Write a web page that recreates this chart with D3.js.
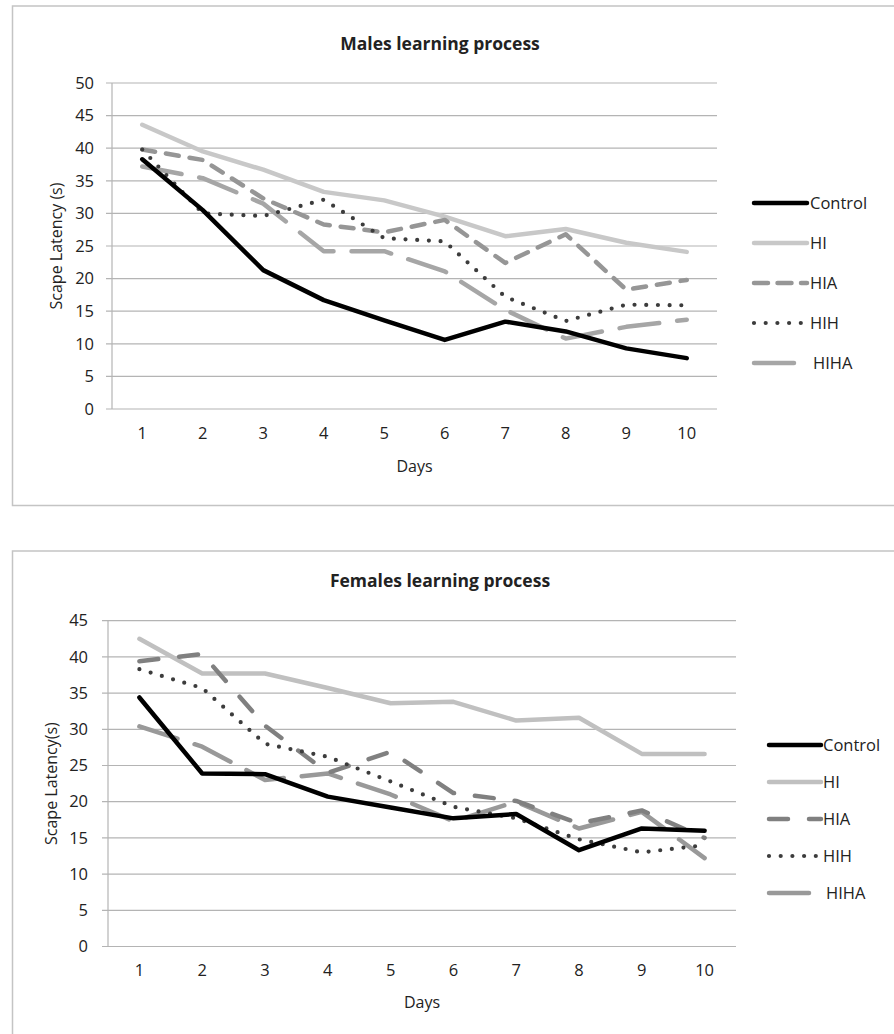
<!DOCTYPE html>
<html><head><meta charset="utf-8">
<script src="https://cdn.jsdelivr.net/npm/d3@7"></script>
<style>
body{margin:0;background:#fff;}
svg{display:block;}
text{font-family:"Open Sans","Noto Sans",sans-serif;fill:#222;}
</style></head><body>
<svg id="chart" width="894" height="1034"></svg>
<script>
const days = ["1","2","3","4","5","6","7","8","9","10"];
const seriesNames = ["Control","HI","HIA","HIH","HIHA"];

// Males
const malesControl = [38.3,30.5,21.3,16.7,13.6,10.6,13.4,11.9,9.3,7.8];
const malesHI      = [43.6,39.5,36.7,33.3,32.0,29.5,26.5,27.6,25.5,24.1];
const malesHIA     = [39.8,38.2,32.3,28.3,27.1,29.0,22.4,26.8,18.3,19.8];
const malesHIH     = [39.8,30.0,29.6,32.1,26.2,25.7,17.2,13.5,16.0,15.9];
const malesHIHA    = [37.2,35.4,31.5,24.2,24.2,21.1,15.2,10.8,12.6,13.7];
const malesTicks   = [0,5,10,15,20,25,30,35,40,45,50];

// Females
const femalesControl = [34.4,23.9,23.8,20.7,19.2,17.7,18.3,13.3,16.3,16.0];
const femalesHI      = [42.5,37.7,37.7,35.7,33.6,33.8,31.2,31.6,26.6,26.6];
const femalesHIA     = [39.4,40.4,30.5,24.0,26.9,21.2,20.1,17.0,18.8,15.0];
const femalesHIH     = [38.3,35.7,28.0,26.2,22.8,19.3,17.7,14.8,13.0,14.0];
const femalesHIHA    = [30.4,27.6,23.0,23.9,21.0,17.3,20.0,16.3,18.6,12.2];
const femalesTicks   = [0,5,10,15,20,25,30,35,40,45];

const svg = d3.select("#chart");

function drawChart(o){
  const g = svg.append("g");
  g.append("path")
    .attr("d", o.frame)
    .attr("fill","none").attr("stroke","#c4c4c4").attr("stroke-width",1.5);

  const x = d3.scaleBand().domain(days).range([o.left,o.right]);
  const y = d3.scaleLinear().domain([0,d3.max(o.ticks)]).range([o.bottom,o.top]);

  g.append("g").selectAll("line").data(o.ticks).join("line")
    .attr("x1",o.left-6).attr("x2",o.right)
    .attr("y1",d=>y(d)).attr("y2",d=>y(d))
    .attr("stroke","#b4b4b4").attr("stroke-width",1.2);
  g.append("line").attr("x1",o.left).attr("x2",o.left)
    .attr("y1",o.top).attr("y2",o.bottom)
    .attr("stroke","#b4b4b4").attr("stroke-width",1.2);

  const yAxis = d3.axisLeft(y).tickValues(o.ticks).tickSize(0).tickPadding(o.yPad);
  const ya = g.append("g").attr("transform",`translate(${o.left},0)`).call(yAxis);
  ya.select(".domain").remove();
  ya.selectAll("text").style("font-family",'"Open Sans",sans-serif').style("font-size","16.5px").attr("fill","#222");

  const xAxis = d3.axisBottom(x).tickSize(0).tickPadding(o.xPad);
  const xa = g.append("g").attr("transform",`translate(0,${o.bottom})`).call(xAxis);
  xa.select(".domain").remove();
  xa.selectAll("text").style("font-family",'"Open Sans",sans-serif').style("font-size","16.5px").attr("fill","#222");

  g.append("text").attr("x",o.titleX).attr("y",o.titleY).attr("text-anchor","middle")
    .style("font-size","17.5px").style("font-weight","bold").text(o.title);
  g.append("text").attr("x",(o.left+o.right)/2).attr("y",o.daysY).attr("text-anchor","middle")
    .style("font-size","16px").text("Days");
  g.append("text").attr("transform",`translate(${o.ytX},${(o.top+o.bottom)/2}) rotate(-90)`)
    .attr("text-anchor","middle").style("font-size","16px").text(o.yTitle);

  const line = d3.line().x((d,i)=>x(days[i])+x.bandwidth()/2).y(d=>y(d));

  const order = [1,4,2,3,0];
  order.forEach(k=>{
    const st = o.styles[k];
    g.append("path").datum(o.data[k]).attr("d",line)
      .attr("fill","none").attr("stroke",st.color).attr("stroke-width",st.width)
      .attr("stroke-linecap","round").attr("stroke-linejoin","round")
      .attr("stroke-dasharray",st.dash||null);
  });

  const lg = g.append("g");
  seriesNames.forEach((n,k)=>{
    const st = o.styles[k];
    const yy = o.legTop + k*o.legStep;
    lg.append("line").attr("x1",o.legX).attr("x2",o.legX+st.legLen)
      .attr("y1",yy).attr("y2",yy)
      .attr("stroke",st.color).attr("stroke-width",st.width)
      .attr("stroke-linecap","round")
      .attr("stroke-dasharray",st.legDash||st.dash||null);
    lg.append("text").attr("x",o.legX+st.legLen+st.textGap).attr("y",yy).attr("dy","0.35em")
      .style("font-size","16.5px").text(n);
  });
}

drawChart({
  frame:"M894,6 L12.5,6 L12.5,505.5 L894,505.5",
  left:112,right:717,top:83,bottom:409,ticks:malesTicks,xPad:18,yPad:18,
  title:"Males learning process",titleX:440,titleY:50,daysY:472,ytX:62,
  yTitle:"Scape Latency (s)",
  data:[malesControl,malesHI,malesHIA,malesHIH,malesHIHA],
  legX:754,legTop:203,legStep:40,
  styles:[
    {color:"#000",width:4.5,legLen:53,textGap:3},
    {color:"#c8c8c8",width:4.5,legLen:53,textGap:3},
    {color:"#969696",width:4.5,dash:"13,11",legDash:"14,9.5",legLen:53,textGap:3},
    {color:"#3c3c3c",width:4.2,dash:"0,11.7",legDash:"0,11.7",legLen:47,textGap:9},
    {color:"#a6a6a6",width:4.5,dash:"40,18",legLen:46,textGap:13}
  ]
});

drawChart({
  frame:"M894,551 L12.5,551 L12.5,1040",
  left:108,right:736,top:620.7,bottom:946.5,ticks:femalesTicks,xPad:18,yPad:20,
  title:"Females learning process",titleX:440,titleY:587,daysY:1008,ytX:57,
  yTitle:"Scape Latency(s)",
  data:[femalesControl,femalesHI,femalesHIA,femalesHIH,femalesHIHA],
  legX:769,legTop:745,legStep:37,
  styles:[
    {color:"#000",width:4.5,legLen:52,textGap:2},
    {color:"#c0c0c0",width:4.5,legLen:52,textGap:2},
    {color:"#808080",width:4.5,dash:"19,21",legDash:"19,21",legLen:52,textGap:2},
    {color:"#3c3c3c",width:4.2,dash:"0,11.7",legDash:"0,11.7",legLen:47,textGap:7},
    {color:"#999",width:4.5,dash:"40,18",legLen:43,textGap:14}
  ]
});
</script>
</body></html>
